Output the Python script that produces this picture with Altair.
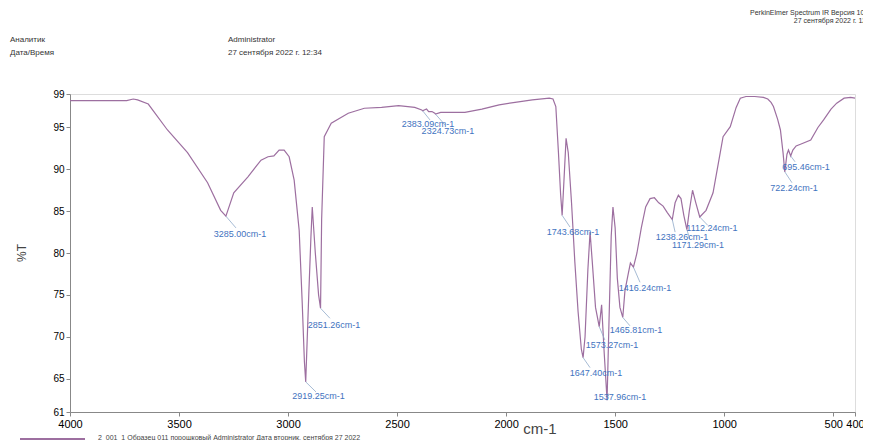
import altair as alt
import pandas as pd

# ---- spectrum (wavenumber cm-1, %T) ----
wavenumber = [4000, 3900, 3800, 3740, 3710, 3690, 3641, 3553, 3461, 3369, 3309, 3285,
              3249, 3184, 3124, 3092, 3065, 3041, 3018, 2995, 2972, 2949, 2935, 2925, 2919,
              2905, 2895, 2889, 2875, 2860, 2851, 2846, 2834, 2802, 2724, 2650, 2571, 2493,
              2419, 2387, 2383, 2365, 2355, 2340, 2327, 2324, 2300, 2189, 2111, 2032, 1959,
              1880, 1802, 1785, 1772, 1760, 1750, 1743, 1735, 1725, 1715, 1700, 1685, 1670,
              1655, 1647, 1638, 1625, 1615, 1605, 1590, 1573, 1562, 1550, 1537, 1528, 1518,
              1510, 1500, 1490, 1478, 1465, 1455, 1440, 1430, 1416, 1400, 1380, 1360, 1340,
              1320, 1300, 1280, 1260, 1238, 1225, 1210, 1198, 1185, 1171, 1160, 1145, 1130,
              1112, 1083, 1051, 1018, 1005, 972, 945, 926, 900, 860, 820, 800, 785, 774, 755,
              742, 730, 722, 712, 705, 695, 685, 670, 650, 603, 570, 544, 510, 484, 450, 420, 400]
transmittance = [98.2, 98.2, 98.2, 98.2, 98.4, 98.3, 97.8, 94.7, 92.0, 88.4, 85.1, 84.4,
                 87.2, 89.1, 91.1, 91.5, 91.6, 92.3, 92.3, 91.5, 88.7, 82.7, 74.0, 67.0, 64.6,
                 75.0, 82.0, 85.5, 80.0, 75.0, 73.4, 84.0, 93.9, 95.5, 96.7, 97.3, 97.4, 97.6,
                 97.4, 97.1, 97.0, 97.2, 96.9, 96.9, 96.7, 96.6, 96.8, 96.8, 97.2, 97.7, 98.0,
                 98.3, 98.5, 98.4, 97.5, 92.0, 87.0, 84.5, 88.5, 93.7, 92.0, 86.0, 79.0, 73.0,
                 68.5, 67.5, 70.0, 78.0, 82.5, 79.0, 73.5, 71.2, 73.8, 68.0, 62.4, 72.0, 82.0,
                 85.5, 83.0, 77.0, 73.5, 72.3, 75.5, 77.5, 78.8, 78.3, 80.0, 83.0, 85.5, 86.5,
                 86.6, 86.0, 85.6, 84.8, 84.0, 86.0, 86.9, 86.5, 84.5, 82.8, 85.0, 87.5, 86.0,
                 84.3, 85.1, 87.2, 92.0, 93.9, 95.1, 97.4, 98.5, 98.7, 98.7, 98.6, 98.4, 98.0, 97.5, 96.0,
                 94.7, 92.0, 89.7, 91.8, 92.3, 91.6, 92.3, 92.8, 93.0, 93.5, 95.0, 95.9, 97.2, 97.9, 98.5, 98.6, 98.5]

# ---- peak labels ----
peak_text = ["3285.00cm-1", "2919.25cm-1", "2851.26cm-1", "2383.09cm-1", "2324.73cm-1",
             "1743.68cm-1", "1647.40cm-1", "1573.27cm-1", "1537.96cm-1", "1465.81cm-1",
             "1416.24cm-1", "1238.26cm-1", "1171.29cm-1", "1112.24cm-1", "722.24cm-1", "695.46cm-1"]
peak_wn = [3285, 2919, 2851, 2383, 2324, 1743, 1647, 1573, 1537, 1465, 1416, 1238, 1171, 1112, 722, 695]
peak_t = [84.4, 64.6, 73.4, 97.0, 96.6, 84.5, 67.5, 71.2, 62.4, 72.3, 78.3, 84.0, 82.8, 84.3, 89.7, 91.6]
label_wn = [3220, 2860, 2789, 2358, 2267, 1693, 1588, 1514, 1478, 1404, 1363, 1193, 1120, 1056, 680, 625]
label_t = [82.3, 62.9, 71.4, 95.4, 94.6, 82.5, 65.7, 69.0, 62.8, 70.8, 75.8, 81.9, 81.0, 83.0, 87.8, 90.3]
leader_wn = [3239, 2872, 2808, 2349, 2280, 1707, 1615, 1547, 1530, 1432, 1386, 1225, 1157, 1075, 689, 675]
leader_t = [83.0, 63.4, 72.2, 95.9, 95.3, 83.1, 66.3, 69.6, 63.2, 71.3, 76.5, 82.5, 81.6, 83.3, 88.4, 90.9]

x_ticks = [4000, 3500, 3000, 2500, 2000, 1500, 1000, 500, 400]
y_ticks = [61, 65, 70, 75, 80, 85, 90, 95, 99]

spec = pd.DataFrame({"wn": wavenumber, "t": transmittance})
peaks = pd.DataFrame({"txt": peak_text, "pw": peak_wn, "pt": peak_t,
                      "lw": label_wn, "lt": label_t, "ew": leader_wn, "et": leader_t})

FONT = "Liberation Sans"
xs = alt.Scale(domain=[4000, 400], nice=False, zero=False)
ys = alt.Scale(domain=[61, 99], nice=False, zero=False)

x_axis = alt.Axis(values=x_ticks, title=None, labelOverlap=False, labelFontSize=11,
                  labelFlush=False, tickSize=4, labelPadding=2, grid=False, format="d")
y_axis = alt.Axis(values=y_ticks, title=None, labelFontSize=10, tickSize=4,
                  labelPadding=2, grid=False, labelOverlap=False, labelFlush=False, format="d")

line = alt.Chart(spec).mark_line(color="#9d6fa0", strokeWidth=1.2).encode(
    x=alt.X("wn:Q", scale=xs, axis=x_axis),
    y=alt.Y("t:Q", scale=ys, axis=y_axis),
    order=alt.Order("wn:Q", sort="descending"),
)

leaders = alt.Chart(peaks).mark_rule(color="#8fa9c9", strokeWidth=0.8).encode(
    x=alt.X("pw:Q", scale=xs, axis=x_axis), y=alt.Y("pt:Q", scale=ys, axis=y_axis),
    x2="ew:Q", y2="et:Q")

labels = alt.Chart(peaks).mark_text(color="#3f73c0", fontSize=9, font=FONT).encode(
    x=alt.X("lw:Q", scale=xs, axis=x_axis), y=alt.Y("lt:Q", scale=ys, axis=y_axis),
    text="txt:N")

one = pd.DataFrame({"k": [0]})


def txt(s, x, y, size=8, align="left", color="#333", angle=0, weight="normal"):
    return alt.Chart(one).mark_text(text=s, fontSize=size, align=align, color=color,
                                    angle=angle, font=FONT, fontWeight=weight,
                                    baseline="middle").encode(x=alt.value(x), y=alt.value(y))


header = [
    txt("Аналитик", -60, -54, 8),
    txt("Дата/Время", -60, -41, 8),
    txt("Administrator", 158, -54, 8),
    txt("27 сентября 2022 г.  12:34", 158, -41, 8),
    txt("PerkinElmer Spectrum IR Версия 10.6.1", 806, -81, 7, align="right"),
    txt("27 сентября 2022 г. 12:34", 806, -73, 7, align="right"),
    txt("%T", -48, 168, 12, angle=270, color="#444"),
    txt("cm-1", 470, 335, 15, align="center", color="#444"),
    txt("2_001_1    Образец 011 порошковый Administrator Дата вторник, сентября 27 2022",
        28, 344, 7, color="#444"),
]

legend_line = alt.Chart(one).mark_rule(color="#9d6fa0", strokeWidth=2).encode(
    x=alt.value(-50), x2=alt.value(15), y=alt.value(345))

chart = alt.layer(line, leaders, labels, legend_line, *header).properties(
    width=785, height=318,
    autosize=alt.AutoSizeParams(type="none"),
    padding={"left": 62, "top": 86, "right": 8, "bottom": 28},
).configure_view(stroke=None).configure_axis(
    domainColor="#8a8a8a", tickColor="#8a8a8a", labelColor="#555", labelFont=FONT,
).configure(background="white")

chart.save("out.html", embed_options={"renderer": "svg", "actions": False})
